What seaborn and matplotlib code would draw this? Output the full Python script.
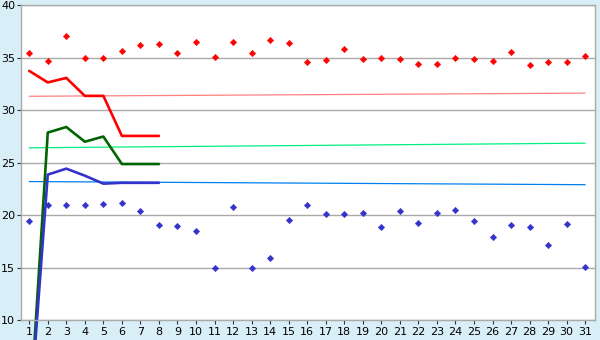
import matplotlib
matplotlib.use("Agg")
import matplotlib.pyplot as plt
import seaborn as sns
import pandas as pd
import numpy as np

days = list(range(1, 32))
red_points = [35.42, 34.65, 37.04, 35.0, 35.0, 35.6, 36.18, 36.3, 35.42, 36.47,
              35.1, 36.47, 35.42, 36.66, 36.37, 34.56, 34.75, 35.8, 34.84, 34.94,
              34.84, 34.36, 34.36, 34.94, 34.84, 34.65, 35.51, 34.27, 34.56, 34.56, 35.13]
blue_points = [19.47, 21.0, 21.0, 21.0, 21.09, 21.18, 20.42, 19.08, 18.99, 18.51,
               15.0, 20.8, 15.0, 15.93, 19.56, 21.0, 20.13, 20.13, 20.23, 18.89,
               20.42, 19.27, 20.23, 20.52, 19.47, 17.94, 19.08, 18.89, 17.17, 19.18, 15.07]

short_days = [1, 2, 3, 4, 5, 6, 7, 8]
red_thick = [33.75, 32.65, 33.08, 31.37, 31.37, 27.55, 27.55, 27.55]
green_thick = [0.0, 27.87, 28.4, 27.0, 27.49, 24.87, 24.87, 24.87]
blue_thick = [0.0, 23.86, 24.43, 23.76, 23.0, 23.08, 23.08, 23.08]

trend_days = [1, 31]
red_trend = [31.33, 31.63]
green_trend = [26.42, 26.86]
blue_trend = [23.2, 22.9]

y_ticks = [10, 15, 20, 25, 30, 35, 40]

sns.set_style("white")
plt.rcParams['font.family'] = ['DejaVu Sans']

fig = plt.figure(figsize=(6, 3.4), dpi=100)
fig.patch.set_facecolor("#D9EFF7")
ax = fig.add_axes([0.0345, 0.0588, 0.9575, 0.9255])
ax.set_facecolor("white")

# trend lines
sns.lineplot(x=trend_days, y=red_trend, ax=ax, color="#FF8080", linewidth=0.9)
sns.lineplot(x=trend_days, y=green_trend, ax=ax, color="#00F080", linewidth=0.9)
sns.lineplot(x=trend_days, y=blue_trend, ax=ax, color="#0080F0", linewidth=0.9)

# thick lines
sns.lineplot(x=short_days, y=red_thick, ax=ax, color="#FF0000", linewidth=1.9, clip_on=False)
sns.lineplot(x=short_days, y=green_thick, ax=ax, color="#006400", linewidth=1.9, clip_on=False)
sns.lineplot(x=short_days, y=blue_thick, ax=ax, color="#3333CC", linewidth=1.9, clip_on=False)

# points
sns.scatterplot(x=days, y=red_points, ax=ax, color="#FF0000", marker="D", s=11, linewidth=0.3, edgecolor="#FF0000", zorder=5)
sns.scatterplot(x=days, y=blue_points, ax=ax, color="#3333CC", marker="D", s=11, linewidth=0.3, edgecolor="#3333CC", zorder=5)

ax.set_xlim(0.54, 31.54)
ax.set_ylim(10, 40)
ax.set_xticks(days)
ax.set_xticklabels([str(d) for d in days])
ax.set_yticks(y_ticks)
ax.set_yticklabels([str(t) for t in y_ticks])

ax.yaxis.grid(True, color="#AAAAAA", linewidth=1.0)
ax.xaxis.grid(False)
ax.set_axisbelow(True)

for side in ["left", "right", "top", "bottom"]:
    ax.spines[side].set_visible(True)
    ax.spines[side].set_color("#AAAAAA")
    ax.spines[side].set_linewidth(1.0)

ax.tick_params(axis="both", which="major", direction="out", length=3, width=0.8,
               color="#333333", labelcolor="#000000", bottom=True, left=True)
ax.tick_params(axis="y", labelsize=8, pad=1)
ax.tick_params(axis="x", labelsize=8, pad=2)

fig.savefig("out.png", dpi=100, facecolor=fig.get_facecolor())
